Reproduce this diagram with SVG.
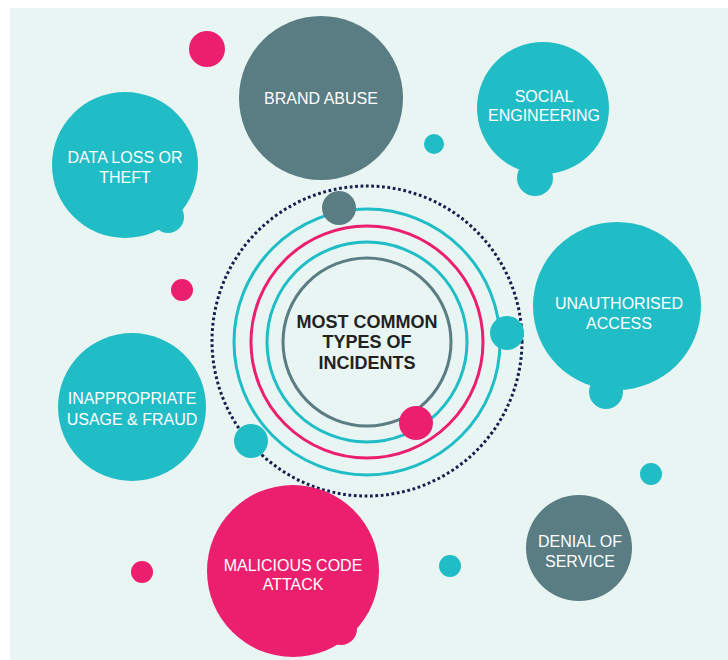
<svg xmlns="http://www.w3.org/2000/svg" width="728" height="660" viewBox="0 0 728 660">
<style>
.teal{fill:#21BDC7}
.gray{fill:#5A7C83}
.pink{fill:#EC1F6E}
.lbl{font-family:"Liberation Sans",Arial,sans-serif;font-size:16px;fill:#ffffff;text-anchor:middle}
.ctr{font-family:"Liberation Sans",Arial,sans-serif;font-size:18px;font-weight:bold;fill:#222222;text-anchor:middle}
.ring{fill:none;stroke-width:3}
</style>
<rect x="10" y="8" width="718" height="652" fill="#E8F5F2"/>
<g id="connectors">
<circle cx="367" cy="341" r="155" fill="none" stroke="#15204F" stroke-width="3" stroke-dasharray="2.8 2.6"/>
<circle class="ring" cx="367" cy="342" r="133" stroke="#21BDC7"/>
<circle class="ring" cx="367" cy="342" r="116" stroke="#EC1F6E"/>
<circle class="ring" cx="367" cy="342" r="100" stroke="#21BDC7"/>
<circle class="ring" cx="367" cy="342" r="84" stroke="#5A7C83"/>
<circle class="gray" cx="339" cy="208" r="17"/>
<circle class="teal" cx="507" cy="333" r="17"/>
<circle class="pink" cx="416" cy="423" r="17"/>
<circle class="teal" cx="251" cy="441" r="17"/>
</g>
<g id="center">
<text class="ctr" x="367" y="328">MOST COMMON</text>
<text class="ctr" x="367" y="348">TYPES OF</text>
<text class="ctr" x="367" y="369">INCIDENTS</text>
</g>
<g id="dots">
<circle class="pink" cx="207" cy="49" r="18"/>
<circle class="teal" cx="434" cy="144" r="10"/>
<circle class="pink" cx="182" cy="290" r="11"/>
<circle class="teal" cx="651" cy="474" r="11"/>
<circle class="pink" cx="142" cy="572" r="11"/>
<circle class="teal" cx="450" cy="566" r="11"/>
</g>
<g id="brand-abuse">
<circle class="gray" cx="321" cy="98" r="82"/>
<text class="lbl" x="321" y="104">BRAND ABUSE</text>
</g>
<g id="data-loss">
<circle class="teal" cx="168" cy="217" r="16"/>
<circle class="teal" cx="125" cy="165" r="73"/>
<text class="lbl" x="125" y="163">DATA LOSS OR</text>
<text class="lbl" x="125" y="183">THEFT</text>
</g>
<g id="social-engineering">
<circle class="teal" cx="535" cy="178" r="18"/>
<circle class="teal" cx="543" cy="108" r="66"/>
<text class="lbl" x="544" y="102">SOCIAL</text>
<text class="lbl" x="544" y="121">ENGINEERING</text>
</g>
<g id="unauthorised-access">
<circle class="teal" cx="606" cy="392" r="17"/>
<circle class="teal" cx="617" cy="306" r="84"/>
<text class="lbl" x="619" y="309">UNAUTHORISED</text>
<text class="lbl" x="619" y="329">ACCESS</text>
</g>
<g id="inappropriate-usage">
<circle class="teal" cx="132" cy="407" r="74"/>
<text class="lbl" x="132" y="404">INAPPROPRIATE</text>
<text class="lbl" x="132" y="425">USAGE &amp; FRAUD</text>
</g>
<g id="malicious-code">
<circle class="pink" cx="341" cy="629" r="16"/>
<circle class="pink" cx="293" cy="571" r="86"/>
<text class="lbl" x="293" y="571">MALICIOUS CODE</text>
<text class="lbl" x="293" y="590">ATTACK</text>
</g>
<g id="denial-of-service">
<circle class="gray" cx="579" cy="548" r="53"/>
<text class="lbl" x="580" y="547">DENIAL OF</text>
<text class="lbl" x="580" y="567">SERVICE</text>
</g>
</svg>
